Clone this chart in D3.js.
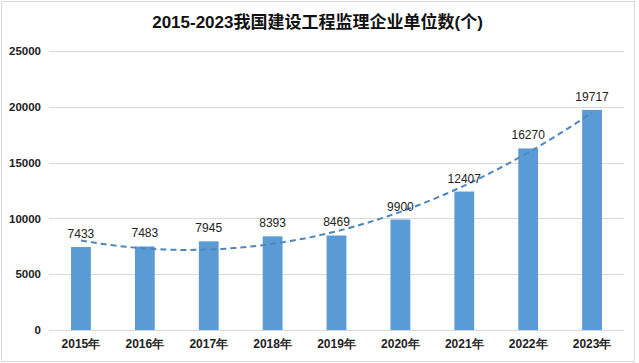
<!DOCTYPE html>
<html>
<head>
<meta charset="utf-8">
<script src="https://cdn.jsdelivr.net/npm/d3@7"></script>
<style>
  body { margin: 0; background: #fff; }
  svg { display: block; font-family: "Liberation Sans", "Noto Sans CJK SC", sans-serif; }
</style>
</head>
<body>
<div id="chart"></div>
<script>
const width = 639, height = 363,
  margin = { top: 51, bottom: 33, left: 49, right: 15 };

// data
const years = ["2015年", "2016年", "2017年", "2018年", "2019年", "2020年", "2021年", "2022年", "2023年"];
const values = [7433, 7483, 7945, 8393, 8469, 9900, 12407, 16270, 19717];
const yTicks = [0, 5000, 10000, 15000, 20000, 25000];
const title = "2015-2023我国建设工程监理企业单位数(个)";

const svg = d3.select("#chart").append("svg")
  .attr("width", width)
  .attr("height", height);

// outer frame
svg.append("rect")
  .attr("x", 1.5).attr("y", 1.5)
  .attr("width", width - 6).attr("height", height - 3)
  .attr("fill", "#fff")
  .attr("stroke", "#d9d9d9")

/* SCALES */
const xScale = d3.scaleBand()
  .domain(years)
  .range([margin.left, width - margin.right])
  .paddingInner(0.69)
  .paddingOuter(0.345)

const yScale = d3.scaleLinear()
  .domain([0, 25000])
  .range([height - margin.bottom, margin.top])

// grid
svg.append("g")
  .selectAll("line")
  .data(yTicks)
  .join("line")
  .attr("x1", margin.left)
  .attr("x2", width - margin.right)
  .attr("y1", d => Math.round(yScale(d)) + 0.5)
  .attr("y2", d => Math.round(yScale(d)) + 0.5)
  .attr("stroke", "#d9d9d9")

// y axis labels
const yAxis = d3.axisLeft(yScale).tickValues(yTicks).tickFormat(d3.format("d")).tickSize(0).tickPadding(8);
svg.append("g")
  .attr("transform", `translate(${margin.left}, 0)`)
  .call(yAxis)
  .call(g => g.select(".domain").remove())
  .selectAll("text")
  .attr("font-size", 11.5)
  .attr("font-weight", "bold")
  .attr("fill", "#222")

// x axis labels
const xAxis = d3.axisBottom(xScale).tickSize(0).tickPadding(9);
svg.append("g")
  .attr("transform", `translate(0, ${height - margin.bottom})`)
  .call(xAxis)
  .call(g => g.select(".domain").remove())
  .selectAll("text")
  .attr("font-size", 12)
  .attr("font-weight", "bold")
  .attr("fill", "#222")

// bars
svg.append("g")
  .selectAll("rect")
  .data(values)
  .join("rect")
  .attr("x", (d, i) => xScale(years[i]))
  .attr("width", xScale.bandwidth())
  .attr("y", d => yScale(d))
  .attr("height", d => yScale(0) - yScale(d))
  .attr("fill", "#5b9bd5")

// polynomial (order 2) trendline fitted to the values
const n = values.length;
const xs = values.map((d, i) => i + 1);
let S = [0, 0, 0, 0, 0], T = [0, 0, 0];
xs.forEach((x, i) => {
  for (let k = 0; k < 5; k++) S[k] += Math.pow(x, k);
  for (let k = 0; k < 3; k++) T[k] += Math.pow(x, k) * values[i];
});
function solve3(A, b) {
  const M = A.map((r, i) => [...r, b[i]]);
  for (let c = 0; c < 3; c++) {
    for (let r = c + 1; r < 3; r++) {
      const f = M[r][c] / M[c][c];
      for (let k = c; k < 4; k++) M[r][k] -= f * M[c][k];
    }
  }
  const x = [0, 0, 0];
  for (let r = 2; r >= 0; r--) {
    let s = M[r][3];
    for (let k = r + 1; k < 3; k++) s -= M[r][k] * x[k];
    x[r] = s / M[r][r];
  }
  return x;
}
const coef = solve3([[S[0], S[1], S[2]], [S[1], S[2], S[3]], [S[2], S[3], S[4]]], T);
const step = xScale.step();
const x0 = xScale(years[0]) + xScale.bandwidth() / 2;
const trend = d3.range(1, n + 0.001, 0.1).map(t => [x0 + (t - 1) * step, coef[0] + coef[1] * t + coef[2] * t * t]);

svg.append("path")
  .datum(trend)
  .attr("fill", "none")
  .attr("stroke", "#4f86c0")
  .attr("stroke-width", 2)
  .attr("stroke-dasharray", "6,4")
  .attr("d", d3.line().x(d => d[0]).y(d => yScale(d[1])))

// value labels
svg.append("g")
  .selectAll("text")
  .data(values)
  .join("text")
  .attr("x", (d, i) => xScale(years[i]) + xScale.bandwidth() / 2)
  .attr("y", d => yScale(d) - 9)
  .attr("text-anchor", "middle")
  .attr("font-size", 12)
  .attr("fill", "#222")
  .text(d => d)

// title
svg.append("text")
  .attr("x", width / 2 - 2)
  .attr("y", 28)
  .attr("text-anchor", "middle")
  .attr("font-size", 17)
  .attr("font-weight", "bold")
  .attr("fill", "#111")
  .text(title)
</script>
</body>
</html>
